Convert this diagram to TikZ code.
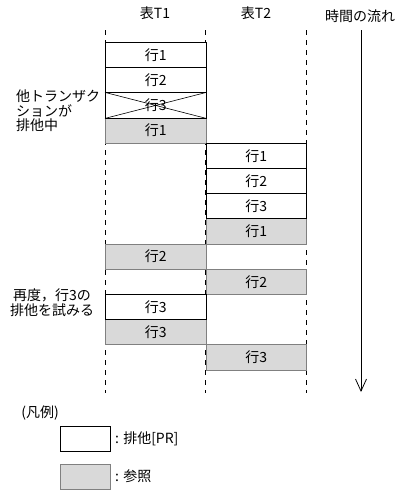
\documentclass[tikz,border=0pt]{standalone}
\usepackage{fontspec}
\setmainfont{Noto Sans CJK JP}
\usetikzlibrary{arrows.meta}
\definecolor{grayfill}{HTML}{D9D9D9}
\definecolor{graybd}{HTML}{808080}
\begin{document}
\begin{tikzpicture}[x=1pt,y=-1pt,
  every node/.style={font=\fontsize{14}{14.5}\selectfont, inner sep=0pt},
  rowbox/.style={minimum width=100.5pt, minimum height=25.2pt, anchor=north west, line width=0.8pt},
  excl/.style={rowbox, draw=black, fill=white},
  refr/.style={rowbox, draw=graybd, fill=grayfill},
  lane/.style={line width=0.8pt, dash pattern=on 5pt off 5pt},
  legbox/.style={minimum width=50pt, minimum height=25pt, anchor=north west, line width=0.8pt}]
\useasboundingbox (0,0) rectangle (408,493);
% headers
\node (h1) at (155,13) {表T1};
\node (h2) at (256,13) {表T2};
\node (h3) at (360,16) {時間の流れ};
% lanes
\coordinate (l1t) at (105,30); \coordinate (l1b) at (105,393);
\coordinate (l2t) at (205.5,30); \coordinate (l2b) at (205.5,393);
\coordinate (l3t) at (306,30); \coordinate (l3b) at (306,393);
\draw[lane] (l1t) -- (l1b);
\draw[lane] (l2t) -- (l2b);
\draw[lane] (l3t) -- (l3b);
% time arrow
\coordinate (ta) at (361,30); \coordinate (tb) at (361,392);
\draw[line width=0.8pt, -{Straight Barb[length=12pt,width=11pt,line width=0.8pt]}] (ta) -- (tb);
% reference (gray) boxes
\node[refr] (a4) at (105,117.6) {行1};
\node[refr] (b4) at (205.5,218.4) {行1};
\node[refr] (a5) at (105,243.6) {行2};
\node[refr] (b5) at (205.5,268.8) {行2};
\node[refr] (a7) at (105,319.2) {行3};
\node[refr] (b6) at (205.5,344.4) {行3};
% exclusive boxes
\node[excl] (a1) at (105,42) {行1};
\node[excl] (a2) at (105,67.2) {行2};
\node[excl] (a3) at (105,92.4) {行3};
\node[excl] (b1) at (205.5,142.8) {行1};
\node[excl] (b2) at (205.5,168) {行2};
\node[excl] (b3) at (205.5,193.2) {行3};
\node[excl] (a6) at (105,294) {行3};
\draw[line width=0.6pt] (a3.north west) -- (a3.south east) (a3.south west) -- (a3.north east);
% side labels
\node[anchor=north west, align=left] (lab1) at (16,90) {他トランザク\\ションが\\排他中};
\node[anchor=north, align=center] (lab2) at (52,289) {再度，行3の\\排他を試みる};
% legend
\node (leg) at (40,413) {(凡例)};
\node[legbox, draw=black, fill=white] (k1) at (60,426) {};
\node[anchor=west] (k1t) at (115,438.5) {: 排他[PR]};
\node[legbox, draw=graybd, fill=grayfill] (k2) at (60,464) {};
\node[anchor=west] (k2t) at (115,476.5) {: 参照};
\end{tikzpicture}
\end{document}
